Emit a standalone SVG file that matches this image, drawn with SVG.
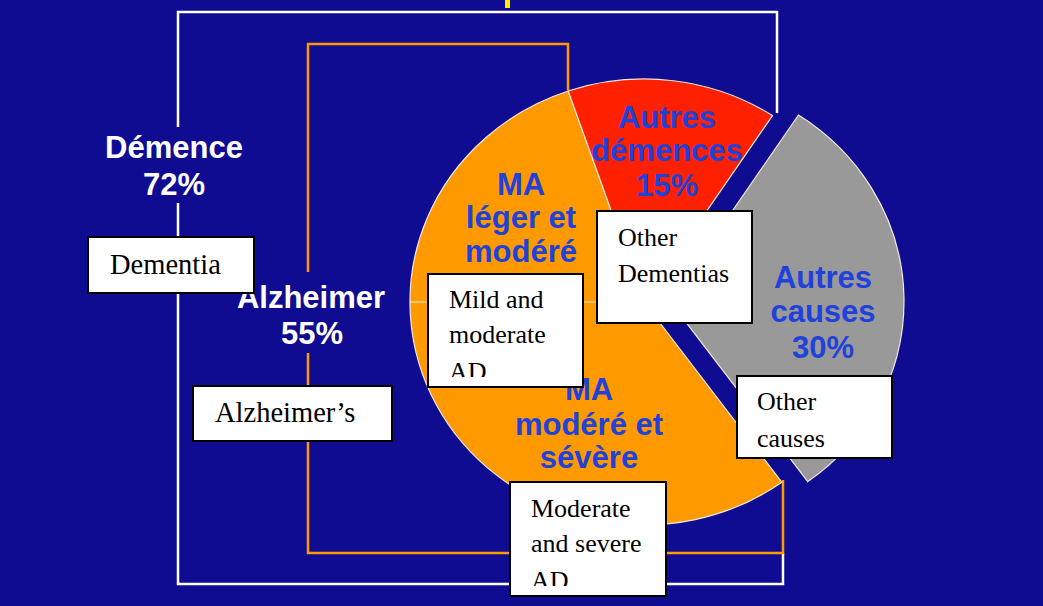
<svg xmlns="http://www.w3.org/2000/svg" width="1043" height="606" viewBox="0 0 1043 606">
<style>
.lbl{font-family:"Liberation Sans",Arial,sans-serif;font-weight:bold;font-size:31px;text-anchor:middle}
.blue{fill:#2142da}
.white{fill:#ffffff}
.box{fill:#ffffff;stroke:#000000;stroke-width:2}
.bt{font-family:"Liberation Serif","Times New Roman",serif;font-size:26px;fill:#000000}
.wl{fill:none;stroke:#ffffff;stroke-width:2.5}
.ol{fill:none;stroke:#ff9900;stroke-width:2.5}
.slice{stroke:#f3e8da;stroke-width:1.2}
</style>
<defs>
<clipPath id="clipMild"><rect x="428" y="274" width="155" height="103"/></clipPath>
<clipPath id="clipMod"><rect x="510" y="482" width="156" height="104"/></clipPath>
</defs>
<rect x="0" y="0" width="1043" height="606" fill="#0f0c92"/>
<rect x="505" y="0" width="5" height="8" fill="#ffee00"/>
<g id="connectors">
<polyline class="wl" points="178,127 178,12 777,12 777,113"/>
<polyline class="wl" points="178,203 178,584 783,584 783,553"/>
<polyline class="ol" points="308,272 308,44 568,44 568,90"/>
<polyline class="ol" points="308,353 308,553 783,553 783,480"/>
</g>
<g id="pie">
<path id="slice-orange" class="slice" fill="#ff9900" d="M644,302 L781.8,482.2 A234,223 0 1 1 568.2,91 Z"/>
<path id="slice-red" class="slice" fill="#ff2000" d="M644,302 L568.2,91 A234,223 0 0 1 772.5,115.6 Z"/>
<path id="slice-gray" class="slice" fill="#999999" d="M670,301.4 L798.5,115 A234,223 0 0 1 807.8,481.6 Z"/>
<line x1="410" y1="302" x2="644" y2="302" stroke="#f3e8da" stroke-width="1.2"/>
</g>
<g id="label-autres-demences">
<text class="lbl blue" x="667" y="128">Autres</text>
<text class="lbl blue" x="667" y="161">démences</text>
<text class="lbl blue" x="667" y="196">15%</text>
</g>
<g id="label-ma-leger">
<text class="lbl blue" x="521" y="195">MA</text>
<text class="lbl blue" x="521" y="228">léger et</text>
<text class="lbl blue" x="521" y="262">modéré</text>
</g>
<g id="label-ma-modere">
<text class="lbl blue" x="589" y="400">MA</text>
<text class="lbl blue" x="589" y="435">modéré et</text>
<text class="lbl blue" x="589" y="468">sévère</text>
</g>
<g id="label-autres-causes">
<text class="lbl blue" x="823" y="288">Autres</text>
<text class="lbl blue" x="823" y="322">causes</text>
<text class="lbl blue" x="823" y="358">30%</text>
</g>
<g id="label-demence">
<text class="lbl white" x="174" y="158">Démence</text>
<text class="lbl white" x="174" y="195">72%</text>
</g>
<g id="label-alzheimer">
<text class="lbl white" x="311" y="308">Alzheimer</text>
<text class="lbl white" x="312" y="344">55%</text>
</g>
<g id="box-dementia">
<rect class="box" x="88" y="237" width="166" height="56"/>
<text class="bt" x="110" y="274" style="font-size:28.5px">Dementia</text>
</g>
<g id="box-alzheimers">
<rect class="box" x="193" y="386" width="199" height="55"/>
<text class="bt" x="215" y="422" style="font-size:28.5px">Alzheimer’s</text>
</g>
<g id="box-other-dementias">
<rect class="box" x="597" y="211" width="155" height="112"/>
<text class="bt" x="618" y="246">Other</text>
<text class="bt" x="618" y="282">Dementias</text>
</g>
<g id="box-mild">
<rect class="box" x="428" y="274" width="155" height="113"/>
<g clip-path="url(#clipMild)">
<text class="bt" x="449" y="308">Mild and</text>
<text class="bt" x="449" y="343">moderate</text>
<text class="bt" x="449" y="380">AD</text>
</g>
</g>
<g id="box-other-causes">
<rect class="box" x="737" y="376" width="155" height="82"/>
<text class="bt" x="757" y="410">Other</text>
<text class="bt" x="757" y="447">causes</text>
</g>
<g id="box-moderate-severe">
<rect class="box" x="510" y="482" width="156" height="114"/>
<g clip-path="url(#clipMod)">
<text class="bt" x="531" y="517">Moderate</text>
<text class="bt" x="531" y="552">and severe</text>
<text class="bt" x="531" y="589">AD</text>
</g>
</g>
</svg>
